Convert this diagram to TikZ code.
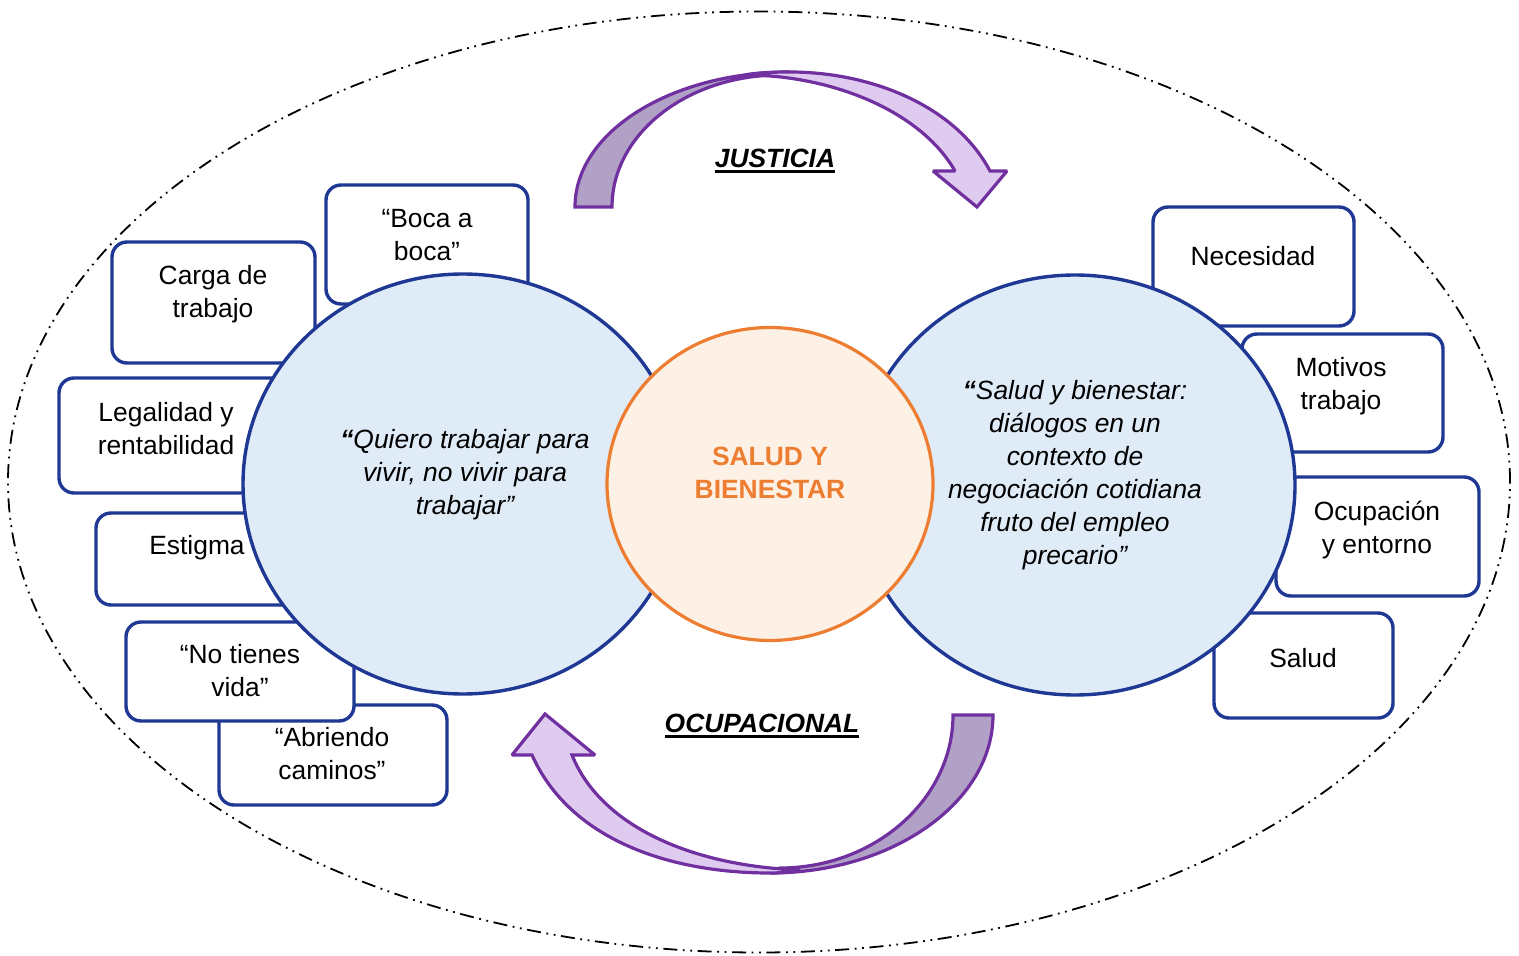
\documentclass[tikz,border=0pt]{standalone}
\usepackage{fontspec}
\setmainfont{Liberation Sans}
\usetikzlibrary{shapes.geometric}
\definecolor{bluedk}{RGB}{31,56,148}
\definecolor{bluelt}{RGB}{223,236,248}
\definecolor{orng}{RGB}{237,125,49}
\definecolor{orlt}{RGB}{253,240,229}
\definecolor{purp}{RGB}{112,48,160}
\definecolor{purdk}{RGB}{178,161,199}
\definecolor{purlt}{RGB}{224,203,240}
\newcommand{\thul}[1]{\setbox0=\hbox{#1}\leavevmode\rlap{\vrule height -0.9pt depth 2.4pt width \wd0}\box0}
\begin{document}
\begin{tikzpicture}[x=0.5pt,y=-0.5pt,
  every node/.style={font=\fontsize{13.2}{16.5}\selectfont, inner sep=0pt, outer sep=0pt},
  boxnode/.style={draw=bluedk, line width=1.7pt, rounded corners=7.5pt, fill=white, anchor=north west},
  txt/.style={align=center, text=black},
  itxt/.style={align=center, text=black, font=\fontsize{13.2}{16.5}\selectfont\itshape},
  bigcirc/.style={ellipse, draw=bluedk, fill=bluelt, line width=1.7pt},
  midcirc/.style={ellipse, draw=orng, fill=orlt, line width=1.6pt},
  outerell/.style={ellipse, draw=black, line width=0.9pt,
    dash pattern=on 7pt off 2.8pt on 0.9pt off 2.8pt on 0.9pt off 2.8pt},
  arrowline/.style={draw=purp, line width=1.6pt, line join=miter, miter limit=2},
  arrlabel/.style={font=\fontsize{13.2}{16.5}\selectfont\bfseries\itshape}
]
\useasboundingbox (0,0) rectangle (1519,956);

% outer dash-dot-dot ellipse
\node[outerell, minimum width=751pt, minimum height=470.5pt] (outer) at (759,482) {};

% boxes (behind circles)
\node[boxnode, minimum width=101pt, minimum height=59.5pt] (boca) at (326,185) {};
\node[boxnode, minimum width=101.5pt, minimum height=60.5pt] (carga) at (112,242) {};
\node[boxnode, minimum width=113pt, minimum height=57.5pt] (legal) at (59,378) {};
\node[boxnode, minimum width=102pt, minimum height=46pt] (estig) at (96,513) {};
\node[boxnode, minimum width=114pt, minimum height=50pt] (abri) at (219,705) {};
\node[boxnode, minimum width=114pt, minimum height=49.5pt] (notie) at (126,622) {};
\node[boxnode, minimum width=100.5pt, minimum height=59.5pt] (nec) at (1153,207) {};
\node[boxnode, minimum width=100.5pt, minimum height=59pt] (moti) at (1242,334) {};
\node[boxnode, minimum width=101.5pt, minimum height=59.5pt] (ocup) at (1276,477) {};
\node[boxnode, minimum width=89.5pt, minimum height=52.5pt] (salud) at (1214,613) {};

% box texts
\node[txt] (tboca) at (427,235) {“Boca a\\boca”};
\node[txt] (tcarga) at (213,294) {Carga de\\trabajo};
\node[txt] (tlegal) at (166,429) {Legalidad y\\rentabilidad};
\node[txt] (testig) at (197,548) {Estigma};
\node[txt] (tnotie) at (240,671) {“No tienes\\vida”};
\node[txt] (tabri) at (332,754) {“Abriendo\\caminos”};
\node[txt] (tnec) at (1253,256) {Necesidad};
\node[txt] (tmoti) at (1341,386) {Motivos\\trabajo};
\node[txt] (tocup) at (1377,530) {Ocupación\\y entorno};
\node[txt] (tsalud) at (1303,658) {Salud};

% circles
\node[bigcirc, minimum width=220pt, minimum height=210pt] (lc) at (463,484) {};
\node[bigcirc, minimum width=220pt, minimum height=210pt] (rc) at (1075,485) {};
\node[midcirc, minimum width=163pt, minimum height=156.5pt] (oc) at (770,484) {};

% circle texts
\node[itxt] (tlc) at (465,475) {{\bfseries “}Quiero trabajar para\\vivir, no vivir para\\trabajar”};
\node[itxt] (trc) at (1075,475) {{\bfseries “}Salud y bienestar:\\diálogos en un\\contexto de\\negociación cotidiana\\fruto del empleo\\precario”};
\node[align=center, text=orng, font=\fontsize{13.2}{16.5}\selectfont\bfseries] (toc) at (770,473) {SALUD Y\\BIENESTAR};

% top curved arrow (JUSTICIA)
\path[arrowline, fill=purdk] (575,207) .. controls (575,132) and (671,72) .. (790,72)
  -- (780,75) .. controls (687,75) and (612,134) .. (612,207) -- cycle;
\path[arrowline, fill=purlt] (745,75) .. controls (830,75) and (920,110) .. (955,171)
  -- (933,171) -- (977,207) -- (1007,171) -- (990,171)
  .. controls (955,105) and (870,72) .. (790,72)
  .. controls (770,72) and (755,73) .. (745,75) -- cycle;

% bottom curved arrow (OCUPACIONAL)
\path[arrowline, fill=purdk] (993,715) .. controls (993,802) and (893,873) .. (770,873)
  -- (780,868) .. controls (875,868) and (953,799) .. (953,715) -- cycle;
\path[arrowline, fill=purlt] (532,755) .. controls (570,840) and (670,873) .. (770,873)
  .. controls (785,873) and (795,871) .. (800,870)
  .. controls (690,866) and (600,825) .. (572,755)
  -- (595,755) -- (545,714) -- (512,755) -- cycle;

% arrow labels
\node[arrlabel] (just) at (775,161) {\thul{JUSTICIA}};
\node[arrlabel] (ocupl) at (762,726) {\thul{OCUPACIONAL}};
\end{tikzpicture}
\end{document}
